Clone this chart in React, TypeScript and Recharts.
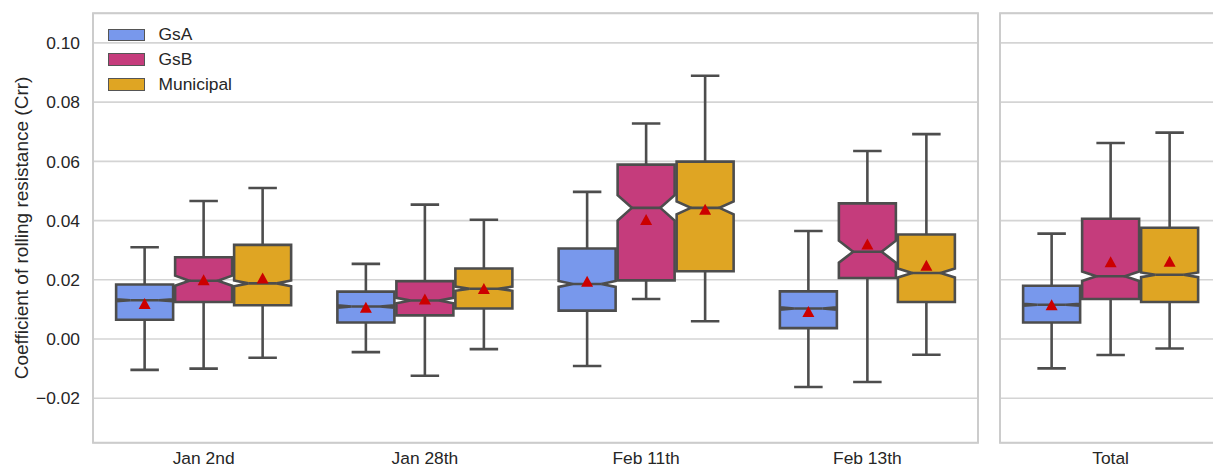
import React from 'react'
import { BarChart, Bar, XAxis, YAxis, CartesianGrid, ReferenceArea, Label } from 'recharts'

const dates = ['Jan 2nd', 'Jan 28th', 'Feb 11th', 'Feb 13th']
const totalName = 'Total'
const yTicks = [-0.02, 0, 0.02, 0.04, 0.06, 0.08, 0.1]
const yDomain = [-0.035, 0.11]

// order of every list: Jan 2nd, Jan 28th, Feb 11th, Feb 13th, Total
const gsaLow = [-0.0104, -0.0044, -0.0091, -0.0162, -0.0099]
const gsaQ1 = [0.0065, 0.0056, 0.0096, 0.0037, 0.0056]
const gsaMed = [0.0131, 0.011, 0.0186, 0.0103, 0.0116]
const gsaQ3 = [0.0184, 0.016, 0.0306, 0.0161, 0.018]
const gsaHigh = [0.031, 0.0254, 0.0497, 0.0365, 0.0356]
const gsaMean = [0.012, 0.0107, 0.0195, 0.0093, 0.0116]
const gsaNotch = [0.0003, 0.0004, 0.001, 0.0004, 0.0003]

const gsbLow = [-0.01, -0.0124, 0.0135, -0.0145, -0.0054]
const gsbQ1 = [0.0125, 0.008, 0.0198, 0.0206, 0.0135]
const gsbMed = [0.0197, 0.013, 0.0443, 0.0295, 0.0212]
const gsbQ3 = [0.0276, 0.0195, 0.0589, 0.0458, 0.0406]
const gsbHigh = [0.0466, 0.0454, 0.0728, 0.0635, 0.0662]
const gsbMean = [0.02, 0.0135, 0.0404, 0.0321, 0.0261]
const gsbNotch = [0.0017, 0.0009, 0.0043, 0.0037, 0.0016]

const munLow = [-0.0063, -0.0034, 0.006, -0.0053, -0.0032]
const munQ1 = [0.0114, 0.0103, 0.0229, 0.0125, 0.0125]
const munMed = [0.0188, 0.017, 0.0443, 0.0223, 0.0217]
const munQ3 = [0.0318, 0.0238, 0.0599, 0.0353, 0.0376]
const munHigh = [0.051, 0.0403, 0.0889, 0.0692, 0.0697]
const munMean = [0.0206, 0.0171, 0.0438, 0.0249, 0.0263]
const munNotch = [0.001, 0.0007, 0.0022, 0.0015, 0.0008]

const series = [
  { key: 'GsA', color: '#7898ec', low: gsaLow, q1: gsaQ1, med: gsaMed, q3: gsaQ3, high: gsaHigh, mean: gsaMean, notch: gsaNotch },
  { key: 'GsB', color: '#c53c7c', low: gsbLow, q1: gsbQ1, med: gsbMed, q3: gsbQ3, high: gsbHigh, mean: gsbMean, notch: gsbNotch },
  { key: 'Municipal', color: '#dfa523', low: munLow, q1: munQ1, med: munMed, q3: munQ3, high: munHigh, mean: munMean, notch: munNotch },
]

const rowFor = (name: string, idx: number) => {
  const row: any = { name, idx }
  series.forEach((s) => {
    row[s.key] = [s.low[idx], s.high[idx]]
  })
  return row
}
const mainRows = dates.map((d, i) => rowFor(d, i))
const totalRows = [rowFor(totalName, 4)]

const FONT = "'Liberation Sans', Arial, Helvetica, sans-serif"
const LINE = '#4d4d4d'
const LW = 2.6
const TEXT = '#262626'

const fmt = (v: number) => v.toFixed(2).replace('-', '\u2212')

// box + notch + whiskers + mean, all positioned from the bar's own [low, high] range
const makeBox = (s: any) => (props: any) => {
  const { x, y, width, height, payload } = props
  const i = payload.idx
  const lo = s.low[i]
  const hi = s.high[i]
  const top = Math.min(y, y + height)
  const bottom = Math.max(y, y + height)
  const k = (bottom - top) / (hi - lo)
  const py = (v: number) => top + (hi - v) * k
  const x0 = x + 1
  const x1 = x + width - 1
  const w = x1 - x0
  const cx = x + width / 2
  const nl = x0 + w / 4
  const nr = x1 - w / 4
  const q1 = py(s.q1[i])
  const q3 = py(s.q3[i])
  const med = py(s.med[i])
  const ciLo = py(s.med[i] - s.notch[i])
  const ciHi = py(s.med[i] + s.notch[i])
  const d = `M${x0},${q1} L${x1},${q1} L${x1},${ciLo} L${nr},${med} L${x1},${ciHi} L${x1},${q3} L${x0},${q3} L${x0},${ciHi} L${nl},${med} L${x0},${ciLo} Z`
  const m = py(s.mean[i])
  const capL = cx - w / 4
  const capR = cx + w / 4
  return (
    <g>
      <path d={d} fill={s.color} stroke={LINE} strokeWidth={LW} strokeLinejoin='miter' />
      <line x1={nl} x2={nr} y1={med} y2={med} stroke={LINE} strokeWidth={LW} />
      <line x1={cx} x2={cx} y1={q3} y2={py(hi)} stroke={LINE} strokeWidth={LW} />
      <line x1={cx} x2={cx} y1={q1} y2={py(lo)} stroke={LINE} strokeWidth={LW} />
      <line x1={capL} x2={capR} y1={py(hi)} y2={py(hi)} stroke={LINE} strokeWidth={LW} />
      <line x1={capL} x2={capR} y1={py(lo)} y2={py(lo)} stroke={LINE} strokeWidth={LW} />
      <polygon points={`${cx},${m - 5.5} ${cx - 6},${m + 5.5} ${cx + 6},${m + 5.5}`} fill='#cc0000' />
    </g>
  )
}

const yLabel = () => (
  <text x={21} y={228} transform='rotate(-90 21 228)' textAnchor='middle' dominantBaseline='central'
    fontSize={19} fill={TEXT} fontFamily={FONT}>
    Coefficient of rolling resistance (Crr)
  </text>
)

const tickStyle = { fill: TEXT, fontSize: 17.4, fontFamily: FONT }

const renderBars = () =>
  series.map((s) => (
    <Bar key={s.key} dataKey={s.key} shape={makeBox(s)} isAnimationActive={false} legendType='none' />
  ))

export default function App() {
  return (
    <div style={{ position: 'fixed', left: 0, top: 0, width: 1213, height: 468, overflow: 'hidden', background: '#fff' }}>
      <div style={{ position: 'absolute', left: 0, top: 0 }}>
        <BarChart width={985} height={468} data={mainRows} barGap={0} barCategoryGap='10%'
          margin={{ top: 13.3, right: 7, bottom: 0, left: 0 }}>
          <CartesianGrid vertical={false} stroke='#d4d4d4' strokeWidth={1.6} />
          <ReferenceArea y1={yDomain[0]} y2={yDomain[1]} fill='none' stroke='#cccccc' strokeWidth={2} />
          <XAxis dataKey='name' axisLine={false} tickLine={false} height={25.3} tickSize={6} tickMargin={3} tick={tickStyle} />
          <YAxis type='number' domain={yDomain} ticks={yTicks} allowDataOverflow width={93} axisLine={false}
            tickLine={false} tickSize={6} tickMargin={7} tickFormatter={fmt} tick={tickStyle}>
            <Label content={yLabel} />
          </YAxis>
          {renderBars()}
        </BarChart>
      </div>
      <div style={{ position: 'absolute', left: 990, top: 0 }}>
        <BarChart width={240} height={468} data={totalRows} barGap={0} barCategoryGap='10%'
          margin={{ top: 13.3, right: 8.75, bottom: 0, left: 10 }}>
          <CartesianGrid vertical={false} stroke='#d4d4d4' strokeWidth={1.6} />
          <ReferenceArea y1={yDomain[0]} y2={yDomain[1]} fill='none' stroke='#cccccc' strokeWidth={2} />
          <XAxis dataKey='name' axisLine={false} tickLine={false} height={25.3} tickSize={6} tickMargin={3} tick={tickStyle} />
          <YAxis type='number' domain={yDomain} ticks={yTicks} allowDataOverflow hide />
          {renderBars()}
        </BarChart>
      </div>
      <div style={{ position: 'absolute', left: 107.5, top: 22.6, fontFamily: FONT, fontSize: 17.4, color: TEXT }}>
        {series.map((s) => (
          <div key={s.key} style={{ display: 'flex', alignItems: 'center', height: 24.7 }}>
            <div style={{ width: 37, height: 12.5, background: s.color, border: '1.5px solid #555', boxSizing: 'border-box' }} />
            <span style={{ marginLeft: 14, lineHeight: 1 }}>{s.key}</span>
          </div>
        ))}
      </div>
    </div>
  )
}
